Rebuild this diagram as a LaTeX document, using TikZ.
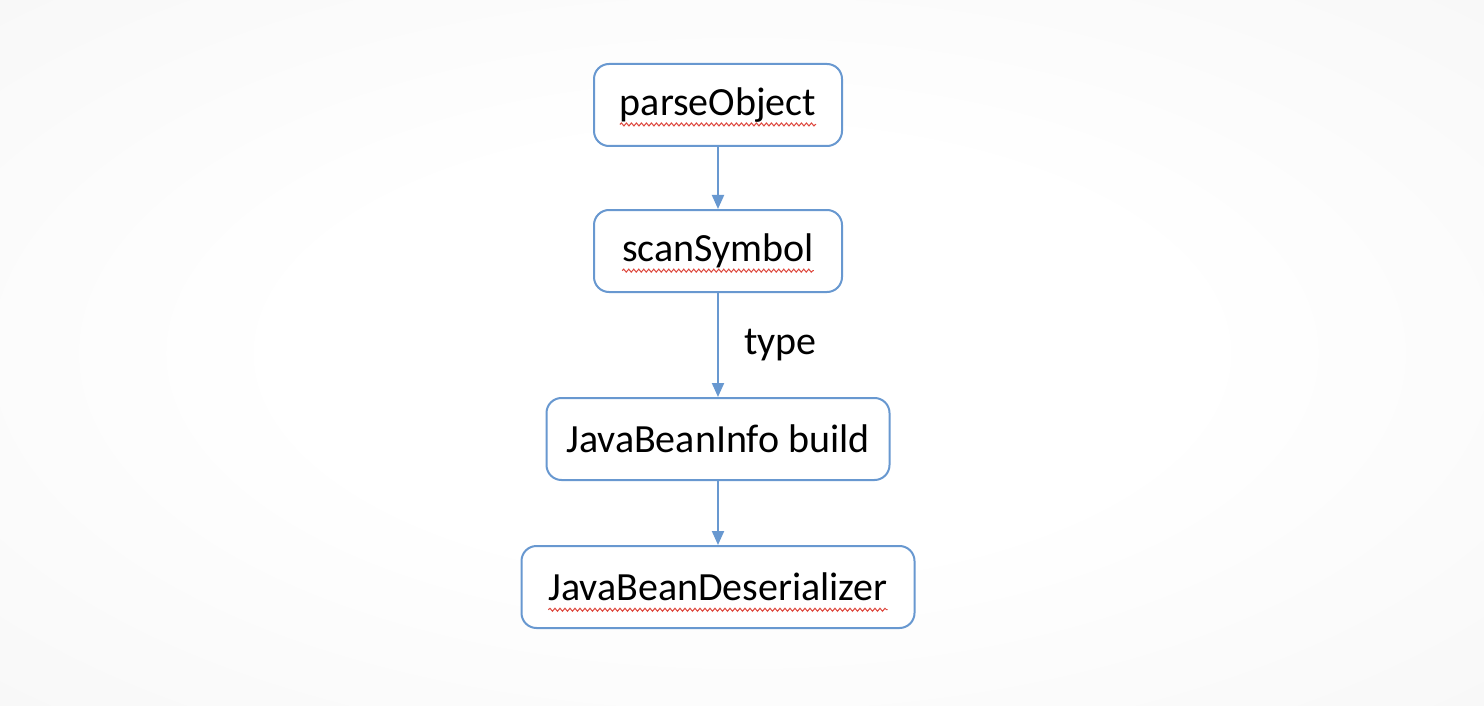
\documentclass[tikz,border=0pt]{standalone}
\usepackage{fontspec}
\setmainfont{Carlito}
\usepackage{tikz}
\usetikzlibrary{arrows.meta,positioning,calc,decorations.pathmorphing}

\definecolor{boxblue}{RGB}{104,152,208}
\definecolor{spellred}{RGB}{222,70,60}
\newcommand{\boxfont}{\fontsize{40}{48}\selectfont}
\newlength{\infowd}
\pgfdeclareradialshading{slideglow}{\pgfpoint{0bp}{0bp}}{%
  color(0bp)=(white); color(15bp)=(white); color(60bp)=(black!6); color(72bp)=(black!7)}

\begin{document}
\begin{tikzpicture}[x=1pt, y=-1pt, node distance=62pt, auto]
    \tikzset{
      roundbox/.style={rectangle,rounded corners=15pt,draw=boxblue,line width=2pt,fill=white,minimum height=82pt,font=\boxfont},
      label/.style={font=\boxfont},
      arrow/.style={-{Triangle[length=14pt,width=12pt]},draw=boxblue,fill=boxblue,line width=2pt},
      squiggle/.style={draw=spellred,line width=1pt,decorate,decoration={snake,segment length=5pt,amplitude=1.5pt}}
    }
    \settowidth{\infowd}{\boxfont JavaBeanInfo}
    % slide background
    \shade[shading=slideglow] (0,0) rectangle (1484,706);
    \useasboundingbox (0,0) rectangle (1484,706);

    \node[roundbox,minimum width=248pt] at (718,105) (parse){parseObject};
    \node[roundbox,below=of parse,minimum width=248pt](scan){scanSymbol};
    \node[roundbox,below=104pt of scan,minimum width=343pt](info){JavaBeanInfo build};
    \node[roundbox,below=64pt of info,minimum width=393pt](deser){JavaBeanDeserializer};

    \draw[arrow](parse.south) -- (scan.north);
    \draw[arrow](scan.south) -- node[label,right,xshift=22pt]{type} (info.north);
    \draw[arrow](info.south) -- (deser.north);

    % spell-check underlines
    \draw[squiggle]([yshift=-9pt]parse.text) -- ([yshift=-9pt]$(parse.text)!2!(parse.base)$);
    \draw[squiggle]([yshift=-9pt]scan.text) -- ([yshift=-9pt]$(scan.text)!2!(scan.base)$);
    \draw[squiggle]([yshift=-9pt]info.text) -- ++(\infowd,0);
    \draw[squiggle]([yshift=-9pt]deser.text) -- ([yshift=-9pt]$(deser.text)!2!(deser.base)$);

  \end{tikzpicture}
\end{document}
